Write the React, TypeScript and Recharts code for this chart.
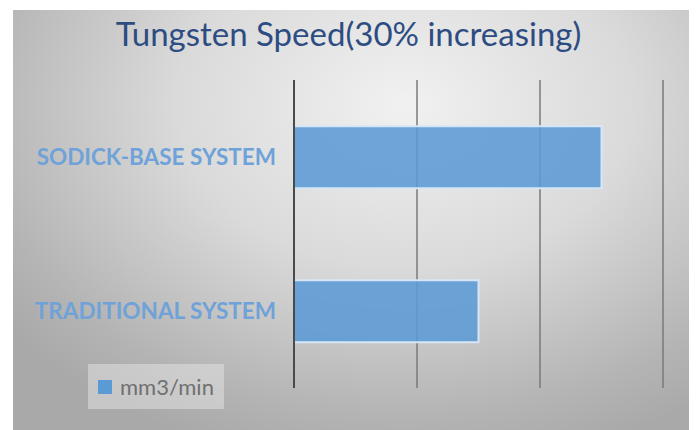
import { BarChart, Bar, XAxis, YAxis, CartesianGrid } from 'recharts';

const categories = ['SODICK-BASE SYSTEM', 'TRADITIONAL SYSTEM'];
const speedValues = [2.5, 1.5];
const gridTicks = [0, 1, 2, 3];
const seriesName = 'mm3/min';

const chartData = categories.map((name, i) => ({ name, speed: speedValues[i] }));

const FONT = 'Lato, "Open Sans", sans-serif';
const BLUE = '#5b9bd5';

function CategoryTick({ x, y, payload }: any) {
  return (
    <text
      x={x}
      y={y}
      dy={8}
      textAnchor="end"
      fill="#6fa2d8"
      fontFamily={FONT}
      fontWeight={700}
      fontSize={22.5}
    >
      {payload.value}
    </text>
  );
}

export default function App() {
  return (
    <div style={{ position: 'fixed', left: 0, top: 0, width: 697, height: 430, background: '#fff', overflow: 'hidden' }}>
      <div
        style={{
          position: 'absolute',
          left: 13,
          top: 10,
          width: 676,
          height: 430,
          background: 'radial-gradient(ellipse 75% 85% at 58% 22%, #f1f1f1 0%, #dadada 45%, #b4b4b4 85%, #a9a9a9 100%)',
        }}
      />
      <div
        style={{
          position: 'absolute',
          left: 0,
          top: 13,
          width: 697,
          textAlign: 'center',
          fontFamily: FONT,
          fontSize: 33,
          color: '#2d4c82',
        }}
      >
        Tungsten Speed(30% increasing)
      </div>
      <div style={{ position: 'absolute', left: 0, top: 0 }}>
        <BarChart
          width={697}
          height={430}
          data={chartData}
          layout="vertical"
          margin={{ top: 80, right: 34, bottom: 42, left: 0 }}
          barCategoryGap="30%"
        >
          <CartesianGrid horizontal={false} stroke="#7a7a7a" strokeWidth={1.5} />
          <XAxis type="number" domain={[0, 3]} ticks={gridTicks} hide />
          <YAxis
            type="category"
            dataKey="name"
            width={294}
            axisLine={{ stroke: '#4a4a4a', strokeWidth: 2 }}
            tickLine={false}
            tickSize={0}
            tickMargin={18}
            tick={<CategoryTick />}
          />
          <Bar
            dataKey="speed"
            name={seriesName}
            fill={BLUE}
            fillOpacity={0.88}
            stroke="#d6e6f6"
            strokeWidth={2}
            isAnimationActive={false}
          />
        </BarChart>
      </div>
      <div
        style={{
          position: 'absolute',
          left: 88,
          top: 364,
          width: 136,
          height: 45,
          boxSizing: 'border-box',
          display: 'flex',
          alignItems: 'center',
          paddingLeft: 10,
          background: 'rgba(235,235,235,0.45)',
          fontFamily: FONT,
          fontSize: 22,
          color: '#707070',
        }}
      >
        <span style={{ width: 14, height: 14, background: BLUE, marginRight: 8, display: 'inline-block' }} />
        {seriesName}
      </div>
    </div>
  );
}
